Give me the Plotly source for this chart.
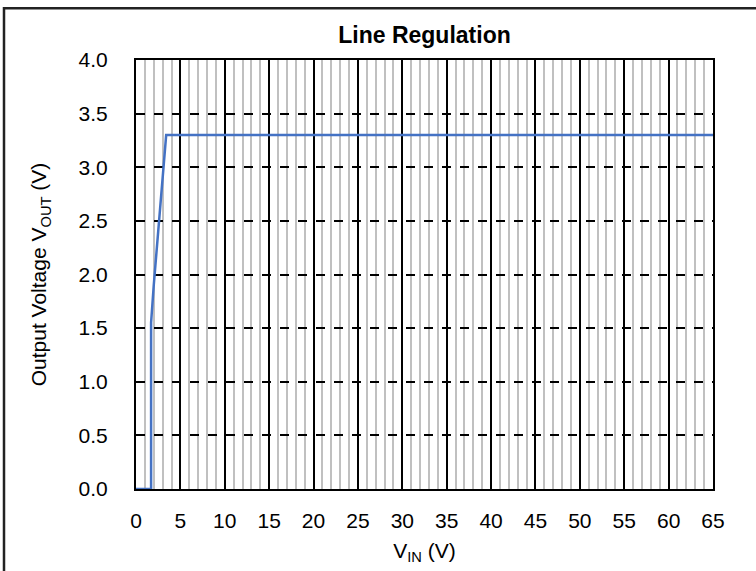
import plotly.graph_objects as go

vin = [0, 1.0, 1.7, 1.7, 1.8, 2.0, 2.5, 3.0, 3.4, 5, 10, 20, 30, 40, 50, 60, 65]
vout = [0, 0, 0, 1.55, 1.68, 1.9, 2.4, 2.9, 3.3, 3.3, 3.3, 3.3, 3.3, 3.3, 3.3, 3.3, 3.3]

x_ticks = list(range(0, 66, 5))
y_ticks = [0, 0.5, 1.0, 1.5, 2.0, 2.5, 3.0, 3.5, 4.0]

W, H = 756, 571
L, R, T, B = 136, 43, 60, 79
pw, ph = W - L - R, H - T - B

fig = go.Figure()
fig.add_trace(go.Scatter(x=vin, y=vout, mode="lines",
                         line=dict(color="#4472C4", width=2.5), showlegend=False))

font = "Arial, Liberation Sans, sans-serif"
fig.update_layout(
    width=W, height=H,
    margin=dict(l=L, r=R, t=T, b=B),
    paper_bgcolor="white", plot_bgcolor="white",
    title=dict(text="<b>Line Regulation</b>", x=(L + pw / 2) / W, xanchor="center",
               y=1 - 35 / H, yanchor="middle",
               font=dict(family=font, size=23, color="black")),
    xaxis=dict(range=[0, 65], tickvals=x_ticks, ticktext=[str(v) for v in x_ticks],
               showgrid=True, gridcolor="black", gridwidth=2,
               minor=dict(dtick=1, showgrid=True, gridcolor="#C0C0C0", gridwidth=1.5),
               showline=True, linecolor="black", linewidth=2, mirror=True,
               ticks="", ticklabelstandoff=12, zeroline=False,
               tickfont=dict(family=font, size=21, color="black"),
               title=dict(text="V<sub>IN</sub> (V)", standoff=12,
                          font=dict(family=font, size=21, color="black"))),
    yaxis=dict(range=[0, 4], tickvals=y_ticks, ticktext=[f"{v:.1f}" for v in y_ticks],
               showgrid=True, gridcolor="black", gridwidth=2, griddash="dash",
               showline=True, linecolor="black", linewidth=2, mirror=True,
               ticks="", ticklabelstandoff=22, zeroline=False,
               tickfont=dict(family=font, size=21, color="black"),
               title=dict(text="Output Voltage V<sub>OUT</sub> (V)", standoff=26,
                          font=dict(family=font, size=21, color="black"))),
    shapes=[dict(type="rect", xref="paper", yref="paper", layer="below",
                 x0=(4 - L) / pw, x1=(W + 10 - L) / pw,
                 y0=-(H + 10 - T - ph) / ph, y1=1 + (T - 8) / ph,
                 line=dict(color="#222222", width=2.5), fillcolor="rgba(0,0,0,0)")],
)

fig.write_html("out.html", config={"displayModeBar": False},
               post_script="document.body.style.margin='0px';")
